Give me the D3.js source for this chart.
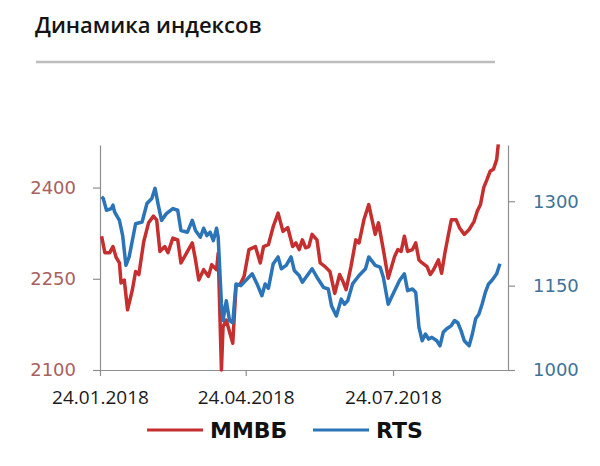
<!DOCTYPE html>
<html>
<head>
<meta charset="utf-8">
<script src="https://cdn.jsdelivr.net/npm/d3@7"></script>
<style>
  body { margin: 0; background: #fff; }
  svg { display: block; }
</style>
</head>
<body>
<svg id="chart"></svg>
<script>
const width = 600;
const height = 466;

const title = "Динамика индексов";
const seriesNames = ["ММВБ", "RTS"];
const tickDates = ["2018-01-24", "2018-04-24", "2018-07-24"];
const leftTicks = [2100, 2250, 2400];
const rightTicks = [1000, 1150, 1300];
const leftDomain = [2100, 2470];
const rightDomain = [1000, 1400];
const dateDomain = ["2018-01-24", "2018-10-03"];

// ММВБ (month-day, 2018)
const mmvbDates = ["01-25","01-27","01-30","02-01","02-03","02-05","02-06","02-08","02-10","02-13",
  "02-15","02-17","02-20","02-23","02-26","02-28","03-02","03-05","03-07","03-10",
  "03-13","03-15","03-18","03-22","03-24","03-26","03-29","04-01","04-03","04-06",
  "04-07","04-09","04-10","04-12","04-14","04-16","04-18","04-21","04-23","04-26",
  "04-30","05-03","05-05","05-08","05-11","05-14","05-17","05-20","05-23","05-25",
  "05-27","05-29","05-31","06-02","06-04","06-07","06-09","06-12","06-15","06-18",
  "06-21","06-23","06-25","06-28","07-01","07-03","07-06","07-09","07-13","07-15",
  "07-18","07-21","07-25","07-27","07-29","07-31","08-02","08-05","08-07","08-09",
  "08-11","08-14","08-16","08-18","08-21","08-23","08-25","08-27","08-29","09-01",
  "09-03","09-06","09-09","09-12","09-14","09-16","09-18","09-20","09-22","09-24",
  "09-26","09-27"];
const mmvbValues = [2320,2293,2293,2303,2285,2276,2243,2248,2199,2232,
  2262,2257,2311,2342,2353,2347,2295,2303,2293,2317,
  2314,2276,2290,2309,2281,2248,2265,2254,2273,2265,
  2292,2100,2171,2182,2163,2144,2237,2243,2254,2298,
  2303,2276,2303,2306,2336,2358,2328,2334,2303,2309,
  2298,2314,2301,2303,2323,2314,2276,2270,2262,2226,
  2257,2246,2232,2270,2314,2309,2347,2372,2323,2342,
  2298,2251,2287,2298,2295,2320,2295,2298,2309,2281,
  2276,2270,2257,2265,2281,2259,2292,2320,2347,2347,
  2334,2323,2331,2344,2361,2372,2400,2413,2427,2430,
  2446,2471];

// RTS
const rtsDates = ["01-25","01-26","01-28","01-31","02-01","02-02","02-05","02-07","02-09","02-11",
  "02-15","02-19","02-22","02-25","02-27","03-01","03-03","03-06","03-10","03-13",
  "03-15","03-19","03-22","03-24","03-27","03-29","03-31","04-02","04-04","04-06",
  "04-07","04-09","04-10","04-12","04-14","04-16","04-18","04-21","04-25","04-28",
  "05-01","05-04","05-06","05-08","05-11","05-14","05-16","05-19","05-22","05-24",
  "05-27","05-29","06-01","06-04","06-07","06-11","06-14","06-16","06-19","06-22",
  "06-24","06-26","06-29","07-03","07-07","07-09","07-13","07-16","07-18","07-21",
  "07-24","07-28","07-31","08-02","08-05","08-07","08-09","08-11","08-13","08-15",
  "08-17","08-20","08-22","08-24","08-26","08-29","08-31","09-02","09-04","09-06",
  "09-09","09-11","09-13","09-15","09-17","09-19","09-21","09-23","09-26","09-28"];
const rtsValues = [1308,1305,1284,1287,1293,1281,1266,1239,1186,1201,
  1260,1263,1296,1305,1323,1293,1266,1278,1287,1284,
  1248,1245,1266,1248,1236,1252,1239,1245,1230,1252,
  1236,1118,1088,1123,1088,1084,1153,1150,1162,1171,
  1153,1132,1153,1145,1189,1201,1180,1186,1201,1177,
  1168,1156,1168,1180,1165,1147,1144,1114,1096,1126,
  1117,1123,1153,1168,1180,1201,1186,1183,1165,1117,
  1135,1159,1171,1141,1144,1138,1076,1052,1064,1055,
  1058,1052,1043,1067,1073,1079,1088,1084,1070,1052,
  1043,1064,1091,1099,1117,1138,1153,1159,1171,1189];

const parse = d3.timeParse("%Y-%m-%d");
const mmvb = mmvbDates.map((d, i) => ({date: parse("2018-" + d), value: mmvbValues[i]}));
const rts = rtsDates.map((d, i) => ({date: parse("2018-" + d), value: rtsValues[i]}));

const plot = {left: 100, right: 508, top: 145, bottom: 370};
const red = "#c62f2f";
const blue = "#2b74b8";
const axisColor = "#8f8f8f";

const svg = d3.select("#chart")
  .attr("width", width)
  .attr("height", height)
  .attr("viewBox", [0, 0, width, height]);

svg.append("text")
  .attr("x", 35)
  .attr("y", 33)
  .attr("font-family", "Open Sans")
  .attr("font-weight", 600)
  .attr("font-size", 22)
  .attr("fill", "#141414")
  .text(title);

svg.append("line")
  .attr("x1", 36).attr("x2", 495)
  .attr("y1", 62).attr("y2", 62)
  .attr("stroke", "#bdbdbd")
  .attr("stroke-width", 2.5);

const x = d3.scaleTime()
  .domain(dateDomain.map(parse))
  .range([plot.left, plot.right]);
const yLeft = d3.scaleLinear().domain(leftDomain).range([plot.bottom, plot.top]);
const yRight = d3.scaleLinear().domain(rightDomain).range([plot.bottom, plot.top]);

const xAxis = svg.append("g")
  .attr("transform", `translate(0,${plot.bottom})`)
  .call(d3.axisBottom(x)
    .tickValues(tickDates.map(parse))
    .tickFormat(d3.timeFormat("%d.%m.%Y"))
    .tickSize(6)
    .tickPadding(15)
    .tickSizeOuter(0));
xAxis.select(".domain").attr("d", `M${plot.left},0.5H${plot.right + 7}`);
xAxis.selectAll("text")
  .attr("font-family", "Open Sans")
  .attr("font-size", 19)
  .attr("fill", "#1a1a1a");

const leftAxis = svg.append("g")
  .attr("transform", `translate(${plot.left},0)`)
  .call(d3.axisLeft(yLeft).tickValues(leftTicks).tickFormat(d3.format("d"))
    .tickSize(7).tickPadding(17).tickSizeOuter(0));
leftAxis.selectAll("text")
  .attr("font-family", "DejaVu Sans")
  .attr("font-size", 18)
  .attr("fill", "#a86060");

const rightAxis = svg.append("g")
  .attr("transform", `translate(${plot.right},0)`)
  .call(d3.axisRight(yRight).tickValues(rightTicks).tickFormat(d3.format("d"))
    .tickSize(7).tickPadding(18).tickSizeOuter(0));
rightAxis.selectAll("text")
  .attr("font-family", "DejaVu Sans")
  .attr("font-size", 18)
  .attr("fill", "#3e7398");

svg.selectAll(".domain, .tick line")
  .attr("stroke", axisColor)
  .attr("stroke-width", 1.2);

const lineLeft = d3.line().x(d => x(d.date)).y(d => yLeft(d.value));
const lineRight = d3.line().x(d => x(d.date)).y(d => yRight(d.value));

svg.append("path")
  .datum(mmvb)
  .attr("d", lineLeft)
  .attr("fill", "none")
  .attr("stroke", red)
  .attr("stroke-width", 3.5)
  .attr("stroke-linejoin", "round");

svg.append("path")
  .datum(rts)
  .attr("d", lineRight)
  .attr("fill", "none")
  .attr("stroke", blue)
  .attr("stroke-width", 3.5)
  .attr("stroke-linejoin", "round");

// legend
const legend = [
  {name: seriesNames[0], color: red, x: 147},
  {name: seriesNames[1], color: blue, x: 313}
];
const lg = svg.selectAll("g.legend")
  .data(legend)
  .enter().append("g")
  .attr("class", "legend")
  .attr("transform", d => `translate(${d.x},430)`);
lg.append("line")
  .attr("x1", 0).attr("x2", 56)
  .attr("stroke", d => d.color)
  .attr("stroke-width", 3);
lg.append("text")
  .attr("x", 63)
  .attr("y", 8)
  .attr("font-family", "DejaVu Sans")
  .attr("font-weight", "bold")
  .attr("font-size", 22)
  .attr("fill", "#111")
  .text(d => d.name);
</script>
</body>
</html>
